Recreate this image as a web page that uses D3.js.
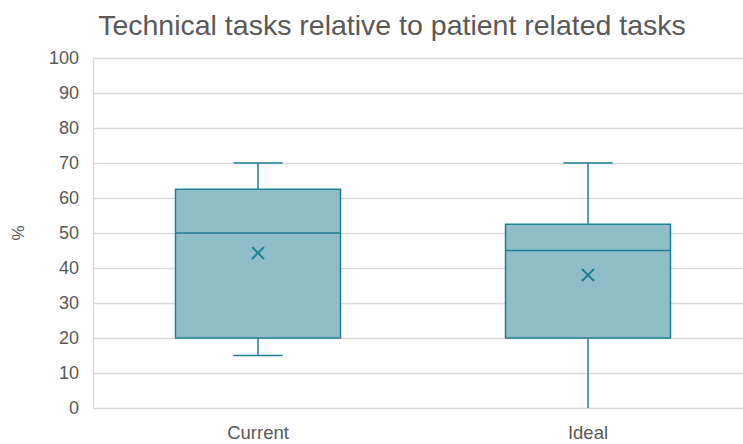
<!DOCTYPE html>
<html>
<head>
<meta charset="utf-8">
<script src="https://cdn.jsdelivr.net/npm/d3@7"></script>
<style>
  body { margin: 0; background: #fff; }
  text { font-family: "Liberation Sans", Arial, sans-serif; fill: #595959; }
</style>
</head>
<body>
<div id="chart"></div>
<script>
const width = 743;
const height = 444;

// data
const categories = ["Current", "Ideal"];
const minValues = [15, 0];
const q1Values = [20, 20];
const medianValues = [50, 45];
const q3Values = [62.5, 52.5];
const maxValues = [70, 70];
const meanValues = [44.3, 38];
const yTicks = [0, 10, 20, 30, 40, 50, 60, 70, 80, 90, 100];

const boxes = categories.map((c, i) => ({
    name: c,
    min: minValues[i], q1: q1Values[i], median: medianValues[i],
    q3: q3Values[i], max: maxValues[i], mean: meanValues[i]
}));

const margin = { top: 58, left: 93, bottom: 36 };
const stroke = "#1f8193";
const fill = "#8bbbc6";

const svg = d3.select("#chart")
    .append("svg")
    .attr("width", width)
    .attr("height", height);

// scales
const y = d3.scaleLinear()
    .domain([0, 100])
    .range([height - margin.bottom, margin.top]);

const x = d3.scaleBand()
    .domain(categories)
    .range([margin.left, 753])
    .paddingInner(0)
    .paddingOuter(0);

// title
svg.append("text")
    .attr("x", 392)
    .attr("y", 35)
    .attr("text-anchor", "middle")
    .style("font-size", "28.5px")
    .text("Technical tasks relative to patient related tasks");

// gridlines
svg.append("g")
    .selectAll("line")
    .data(yTicks)
    .enter()
    .append("line")
    .attr("x1", margin.left)
    .attr("x2", 753)
    .attr("y1", d => y(d) + 0.5)
    .attr("y2", d => y(d) + 0.5)
    .attr("stroke", "#d9d9d9")
    .attr("stroke-width", 1.3);

// y axis
const yAxis = svg.append("g")
    .attr("transform", `translate(${margin.left},0)`)
    .call(d3.axisLeft(y).tickValues(yTicks).tickSize(0).tickPadding(14));
yAxis.select(".domain").attr("stroke", "#d9d9d9").attr("stroke-width", 1.3);
yAxis.selectAll("text").style("font-size", "18px").attr("fill", "#595959");

// x axis
const xAxis = svg.append("g")
    .attr("transform", `translate(0,${height - margin.bottom})`)
    .call(d3.axisBottom(x).tickSize(0).tickPadding(18));
xAxis.select(".domain").remove();
xAxis.selectAll("text").style("font-size", "18.5px").attr("fill", "#595959");

// y label
svg.append("text")
    .attr("transform", `translate(24,${y(50)}) rotate(-90)`)
    .attr("text-anchor", "middle")
    .style("font-size", "17px")
    .text("%");

// boxes
const boxW = x.bandwidth() * 0.5;
const capW = 49;
const g = svg.selectAll(".box")
    .data(boxes)
    .enter()
    .append("g")
    .attr("class", "box");

const cx = d => x(d.name) + x.bandwidth() / 2;

// whiskers
g.append("line")
    .attr("x1", cx).attr("x2", cx)
    .attr("y1", d => y(d.max)).attr("y2", d => y(d.q3))
    .attr("stroke", stroke).attr("stroke-width", 1.5);
g.append("line")
    .attr("x1", cx).attr("x2", cx)
    .attr("y1", d => y(d.q1)).attr("y2", d => y(d.min))
    .attr("stroke", stroke).attr("stroke-width", 1.5);
g.append("line")
    .attr("x1", d => cx(d) - capW / 2).attr("x2", d => cx(d) + capW / 2)
    .attr("y1", d => y(d.max)).attr("y2", d => y(d.max))
    .attr("stroke", stroke).attr("stroke-width", 1.5);
g.filter(d => d.min > 0).append("line")
    .attr("x1", d => cx(d) - capW / 2).attr("x2", d => cx(d) + capW / 2)
    .attr("y1", d => y(d.min)).attr("y2", d => y(d.min))
    .attr("stroke", stroke).attr("stroke-width", 1.5);

// box
g.append("rect")
    .attr("x", d => cx(d) - boxW / 2)
    .attr("y", d => y(d.q3))
    .attr("width", boxW)
    .attr("height", d => y(d.q1) - y(d.q3))
    .attr("fill", fill)
    .attr("fill-opacity", 0.97)
    .attr("stroke", stroke)
    .attr("stroke-width", 1.5);

// median
g.append("line")
    .attr("x1", d => cx(d) - boxW / 2).attr("x2", d => cx(d) + boxW / 2)
    .attr("y1", d => y(d.median)).attr("y2", d => y(d.median))
    .attr("stroke", stroke).attr("stroke-width", 1.5);

// mean marker
const s = 6;
g.append("path")
    .attr("d", d => {
        const px = cx(d), py = y(d.mean);
        return `M${px - s},${py - s}L${px + s},${py + s}M${px - s},${py + s}L${px + s},${py - s}`;
    })
    .attr("stroke", stroke)
    .attr("stroke-width", 2)
    .attr("fill", "none");
</script>
</body>
</html>
